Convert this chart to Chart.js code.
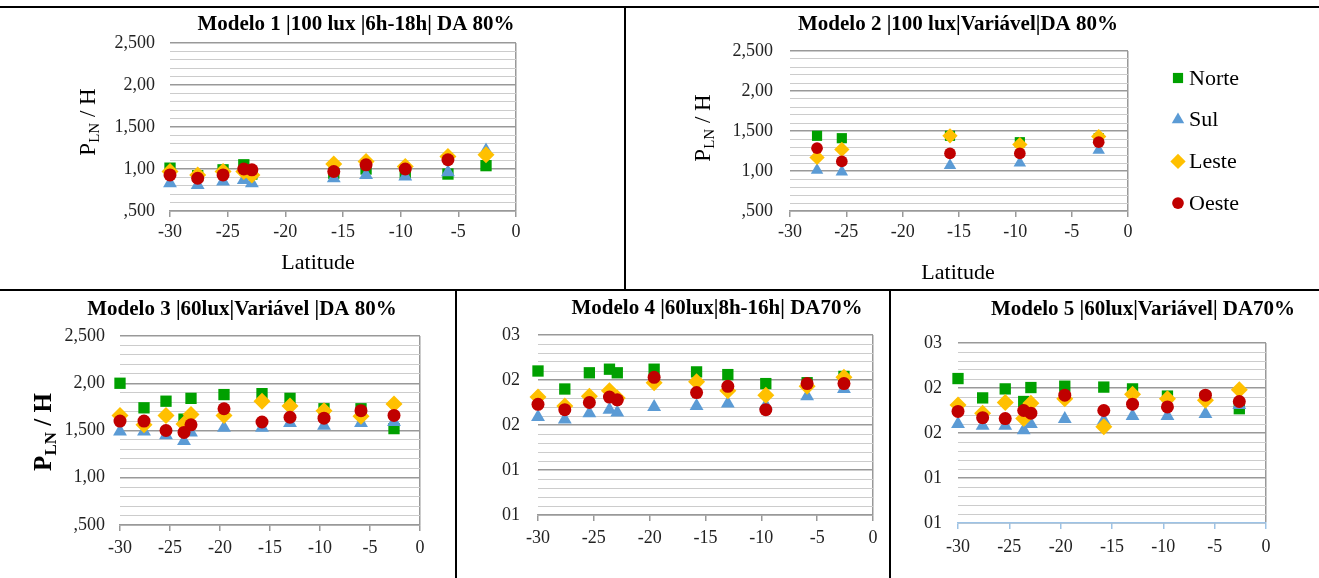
<!DOCTYPE html>
<html>
<head>
<meta charset="utf-8">
<script src="https://cdn.jsdelivr.net/npm/chart.js@4.4.1/dist/chart.umd.min.js"></script>
<style>
  html, body { margin: 0; padding: 0; background: #fff; }
  #page { position: relative; width: 1319px; height: 578px; overflow: hidden; }
  #page canvas { position: absolute; left: 0; top: 0; }
  .rule { position: absolute; background: #000; }
</style>
</head>
<body>
<div id="page">
  <canvas id="m1" width="1319" height="578"></canvas>
  <canvas id="m2" width="1319" height="578"></canvas>
  <canvas id="m3" width="1319" height="578"></canvas>
  <canvas id="m4" width="1319" height="578"></canvas>
  <canvas id="m5" width="1319" height="578"></canvas>
  <div class="rule" style="left:0;top:6px;width:1319px;height:2px"></div>
  <div class="rule" style="left:624px;top:6px;width:2px;height:285px"></div>
  <div class="rule" style="left:0;top:289px;width:1319px;height:2px"></div>
  <div class="rule" style="left:455px;top:289px;width:2px;height:289px"></div>
  <div class="rule" style="left:889px;top:289px;width:2px;height:289px"></div>
</div>
<script>
// latitudes of the cities (x values shared by every model)
const latitudes = [-30, -27.6, -25.4, -23.6, -22.9, -19.6, -15.8, -13.0, -9.6, -5.9, -2.6];
const xTicks = [-30, -25, -20, -15, -10, -5, 0];
const seriesNames = ['Norte', 'Sul', 'Leste', 'Oeste'];

// y tick labels as printed in the figure
const yLabelsA = [',500', '1,00', '1,500', '2,00', '2,500'];
const yLabelsB = ['01', '01', '02', '02', '03'];

// Modelo 1 |100 lux |6h-18h| DA 80%
const m1Norte = [1.01, 0.92, 0.99, 1.05, 0.94, null, 0.95, 1.00, 0.95, 0.94, 1.04];
const m1Sul   = [0.83, 0.81, 0.85, 0.87, 0.83, null, 0.89, 0.93, 0.91, 0.96, 1.22];
const m1Leste = [0.97, 0.93, 0.97, 0.97, 0.93, null, 1.06, 1.09, 1.03, 1.15, 1.17];
const m1Oeste = [0.93, 0.89, 0.93, 1.00, 0.99, null, 0.97, 1.05, 1.00, 1.11, null];

// Modelo 2 |100 lux|Variável|DA 80%
const m2Norte = [null, 1.44, 1.41, null, null, null, 1.44, null, 1.36, null, 1.41];
const m2Sul   = [null, 1.01, 0.99, null, null, null, 1.07, null, 1.10, null, 1.26];
const m2Leste = [null, 1.17, 1.27, null, null, null, 1.44, null, 1.33, null, 1.43];
const m2Oeste = [null, 1.285, 1.12, null, null, null, 1.22, null, 1.22, null, 1.36];

// Modelo 3 |60lux|Variável |DA 80%
const m3Norte = [2.00, 1.74, 1.81, 1.62, 1.84, 1.88, 1.89, 1.84, 1.73, 1.73, 1.52];
const m3Sul   = [1.49, 1.49, 1.45, 1.39, 1.48, 1.53, 1.53, 1.58, 1.55, 1.58, 1.59];
const m3Leste = [1.66, 1.56, 1.66, 1.57, 1.67, 1.66, 1.81, 1.76, 1.71, 1.65, 1.78];
const m3Oeste = [1.60, 1.60, 1.50, 1.48, 1.56, 1.73, 1.59, 1.64, 1.63, 1.71, 1.66];

// Modelo 4 |60lux|8h-16h| DA70%
const m4Norte = [0.210, 0.190, 0.208, 0.212, 0.208, 0.212, 0.209, 0.206, 0.196, 0.197, 0.204];
const m4Sul   = [0.159, 0.156, 0.163, 0.167, 0.164, 0.170, 0.171, 0.174, 0.172, 0.182, 0.190];
const m4Leste = [0.181, 0.171, 0.182, 0.188, 0.180, 0.197, 0.198, 0.188, 0.183, 0.193, 0.203];
const m4Oeste = [0.173, 0.167, 0.175, 0.181, 0.178, 0.203, 0.186, 0.193, 0.167, 0.196, 0.196];

// Modelo 5 |60lux|Variável| DA70%
const m5Norte = [0.2105, 0.189, 0.199, 0.185, 0.2005, 0.202, 0.201, 0.199, 0.191, 0.190, 0.177];
const m5Sul   = [0.160, 0.158, 0.158, 0.153, 0.160, 0.1655, 0.164, 0.169, 0.169, 0.171, 0.181];
const m5Leste = [0.181, 0.172, 0.184, 0.166, 0.183, 0.188, 0.157, 0.193, 0.188, 0.1865, 0.198];
const m5Oeste = [0.174, 0.167, 0.166, 0.175, 0.172, 0.192, 0.175, 0.182, 0.179, 0.192, 0.185];

const colors = ['#00A000', '#5B9BD5', '#FFC000', '#C00000'];
const shapes = ['rect', 'triangle', 'rectRot', 'circle'];
const radii = [8, 8, 8.5, 6.5];
const SERIF = '"Liberation Serif", "Times New Roman", serif';

function toPoints(values) {
  return latitudes.map((x, i) => ({ x: x, y: values[i] })).filter(p => p.y !== null);
}

function drawYTitle(ctx, t) {
  const main = `${t.weight} ${t.size}px ${SERIF}`;
  const sub = `${t.weight} ${Math.round(t.size * 0.66)}px ${SERIF}`;
  ctx.save();
  ctx.translate(t.x, t.y);
  ctx.rotate(-Math.PI / 2);
  ctx.fillStyle = '#000';
  ctx.textAlign = 'left';
  ctx.textBaseline = 'alphabetic';
  ctx.font = main;
  const w1 = ctx.measureText('P').width;
  const w3 = ctx.measureText(' / H').width;
  ctx.font = sub;
  const w2 = ctx.measureText('LN').width;
  let x = -(w1 + w2 + w3) / 2;
  const base = t.size * 0.33;
  ctx.font = main;
  ctx.fillText('P', x, base);
  x += w1;
  ctx.font = sub;
  ctx.fillText('LN', x, base + t.size * 0.2);
  x += w2;
  ctx.font = main;
  ctx.fillText(' / H', x, base);
  ctx.restore();
}

// titles, axis titles and legend placed where the figure has them
function decor(spec) {
  return {
    id: 'decor',
    afterDraw(chart) {
      const ctx = chart.ctx;
      ctx.save();
      ctx.fillStyle = '#000';
      ctx.textAlign = 'center';
      ctx.textBaseline = 'middle';
      ctx.font = `bold 21px ${SERIF}`;
      ctx.fillText(spec.title, spec.titleX, spec.titleY);
      if (spec.xTitle) {
        ctx.font = `22px ${SERIF}`;
        ctx.fillText('Latitude', spec.xTitle[0], spec.xTitle[1]);
      }
      if (spec.yTitle) drawYTitle(ctx, spec.yTitle);
      if (spec.legend) {
        const lg = spec.legend;
        ctx.textAlign = 'left';
        ctx.font = `22px ${SERIF}`;
        chart.data.datasets.forEach((ds, i) => {
          const y = lg.y + i * lg.gap;
          ctx.fillStyle = ds.backgroundColor;
          Chart.helpers.drawPoint(ctx, {
            pointStyle: ds.pointStyle, radius: ds.pointRadius, rotation: 0, borderWidth: 0
          }, lg.x, y);
          ctx.fillStyle = '#000';
          ctx.fillText(ds.label, lg.x + 11, y + 1);
        });
      }
      ctx.restore();
    }
  };
}

function makeChart(id, box, series, y, spec) {
  const W = 1319, H = 578, axisW = 60, axisH = 40;
  const minor = '#CCCCCC', major = '#999999';
  new Chart(document.getElementById(id), {
    type: 'scatter',
    data: {
      datasets: series.map((vals, i) => ({
        label: seriesNames[i],
        data: toPoints(vals),
        backgroundColor: colors[i],
        borderColor: colors[i],
        borderWidth: 0,
        pointStyle: shapes[i],
        pointRadius: radii[i] * (spec.size || 1),
        pointHoverRadius: radii[i] * (spec.size || 1),
        clip: false,
        order: 3 - i
      }))
    },
    options: {
      responsive: false,
      animation: false,
      layout: {
        padding: { left: box.l - axisW, right: W - box.r, top: box.t, bottom: H - box.b - axisH }
      },
      scales: {
        x: {
          type: 'linear',
          min: -30,
          max: 0,
          afterFit: s => { s.height = axisH; },
          afterBuildTicks: s => { s.ticks = xTicks.map(v => ({ value: v })); },
          grid: {
            drawOnChartArea: true,
            color: c => (c.tick && c.tick.value === 0 ? major : 'rgba(0,0,0,0)'),
            lineWidth: 1.5,
            tickColor: spec.axisColor || major,
            tickWidth: 1.5,
            tickLength: 6
          },
          border: { color: spec.axisColor || major, width: 1.5 },
          ticks: {
            color: '#222',
            padding: spec.xPad,
            font: { family: SERIF, size: 18 },
            maxRotation: 0,
            autoSkip: false
          }
        },
        y: {
          min: y.min,
          max: y.max,
          afterFit: s => { s.width = axisW; },
          afterBuildTicks: s => {
            const n = Math.round((y.max - y.min) / y.step);
            const t = [];
            for (let i = 0; i <= n; i++) t.push({ value: y.min + i * y.step });
            s.ticks = t;
          },
          grid: {
            drawTicks: false,
            color: c => (c.index % 5 === 0 ? major : minor),
            lineWidth: c => (c.index % 5 === 0 ? 1.5 : 1)
          },
          border: { display: false },
          ticks: {
            color: '#222',
            padding: spec.yPad,
            autoSkip: false,
            font: { family: SERIF, size: 18 },
            callback: (v, i) => (i % 5 === 0 ? y.labels[i / 5] : '')
          }
        }
      },
      plugins: {
        legend: { display: false },
        tooltip: { enabled: false }
      }
    },
    plugins: [decor(spec)]
  });
}

const yA = { min: 0.5, max: 2.5, step: 0.1, labels: yLabelsA };
const yB = { min: 0.05, max: 0.25, step: 0.01, labels: yLabelsB };

makeChart('m1', { l: 170, r: 516, t: 43, b: 211 }, [m1Norte, m1Sul, m1Leste, m1Oeste], yA, {
  title: 'Modelo 1 |100 lux |6h-18h| DA 80%', titleX: 356, titleY: 25,
  xTitle: [318, 263], yTitle: { x: 87, y: 122, size: 23, weight: 'normal' },
  xPad: 4, yPad: 15
});

makeChart('m2', { l: 790, r: 1128, t: 51, b: 211 }, [m2Norte, m2Sul, m2Leste, m2Oeste], yA, {
  title: 'Modelo 2 |100 lux|Variável|DA 80%', titleX: 958, titleY: 25,
  xTitle: [958, 273], yTitle: { x: 702, y: 128, size: 23, weight: 'normal' },
  legend: { x: 1178, y: 78, gap: 41.7 }, size: 0.9,
  xPad: 4, yPad: 17
});

makeChart('m3', { l: 120, r: 420, t: 336, b: 525 }, [m3Norte, m3Sul, m3Leste, m3Oeste], yA, {
  title: 'Modelo 3 |60lux|Variável |DA 80%', titleX: 242, titleY: 310,
  yTitle: { x: 43, y: 432, size: 25, weight: 'bold' },
  xPad: 6, yPad: 15
});

makeChart('m4', { l: 538, r: 873, t: 335, b: 515 }, [m4Norte, m4Sul, m4Leste, m4Oeste], yB, {
  title: 'Modelo 4 |60lux|8h-16h| DA70%', titleX: 717, titleY: 309,
  xPad: 6, yPad: 18
});

makeChart('m5', { l: 958, r: 1266, t: 343, b: 523 }, [m5Norte, m5Sul, m5Leste, m5Oeste], yB, {
  title: 'Modelo 5 |60lux|Variável| DA70%', titleX: 1143, titleY: 310,
  axisColor: '#9DC3E6',
  xPad: 7, yPad: 16
});
</script>
</body>
</html>
